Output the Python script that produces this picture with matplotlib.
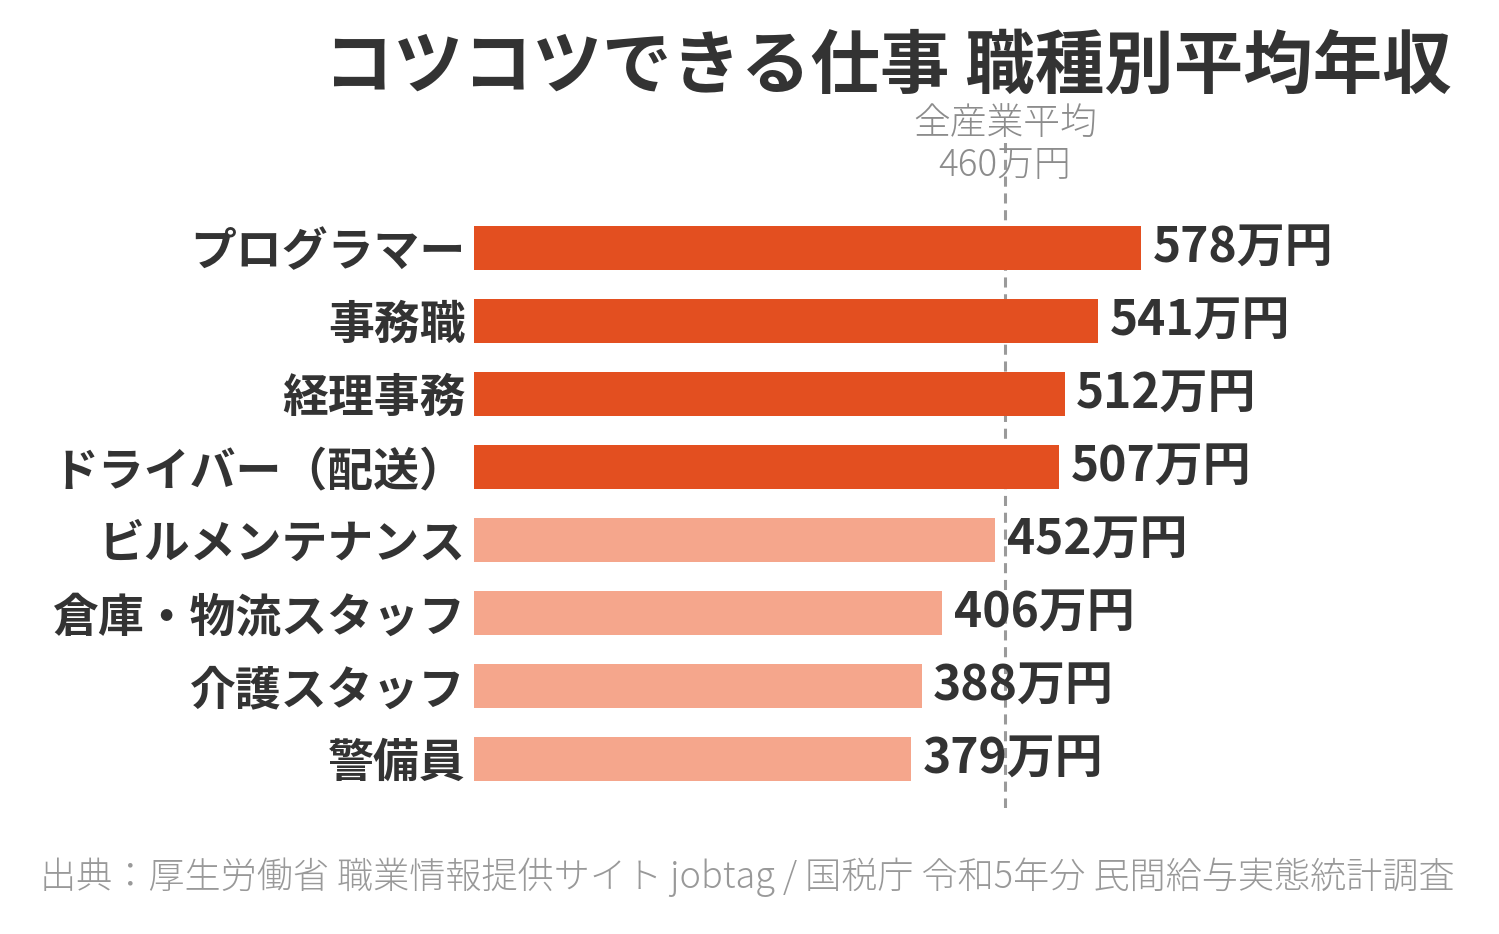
import matplotlib as mpl
import matplotlib.pyplot as plt

mpl.rcParams['font.family'] = ['Noto Sans CJK JP', 'DejaVu Sans']

jobs = ['プログラマー', '事務職', '経理事務', 'ドライバー（配送）',
        'ビルメンテナンス', '倉庫・物流スタッフ', '介護スタッフ', '警備員']
salary = [578, 541, 512, 507, 452, 406, 388, 379]
average = 460

title = 'コツコツできる仕事 職種別平均年収'
source = '出典：厚生労働省 職業情報提供サイト jobtag / 国税庁 令和5年分 民間給与実態統計調査'

dark = '#E34F20'
light = '#F5A68C'
text_color = '#333333'
gray = '#8C8C8C'

fig = plt.figure(figsize=(14.99, 9.34), dpi=100)
ax = fig.add_axes([474 / 1499, 1 - 808 / 934, 923 / 1499, (808 - 137) / 934])

ypos = list(range(len(jobs)))
colors = [dark if v > average else light for v in salary]
ax.barh(ypos, salary, height=0.6, color=colors, zorder=2)
ax.axvline(average, color='#9A9A9A', lw=2.2, dashes=(3.3, 2.2), zorder=1)

for y, v in zip(ypos, salary):
    ax.text(v + 10, y, f'{v}万円', va='center', ha='left', fontsize=34.5,
            fontweight='bold', color=text_color, zorder=3)

ax.text(average, -1.70, '全産業平均', ha='center', va='center', fontsize=26.5,
        color=gray, fontweight='light')
ax.text(average, -1.12, f'{average}万円', ha='center', va='center', fontsize=26.5,
        color=gray, fontweight='light')

ax.set_xlim(0, 800)
ax.set_ylim(7.67, -1.52)
ax.set_yticks(ypos)
ax.set_yticklabels(jobs, fontsize=33, fontweight='bold', color=text_color)
ax.tick_params(axis='y', length=0, pad=6)
ax.set_xticks([])
for s in ax.spines.values():
    s.set_visible(False)

fig.text(1452 / 1499, 1 - 68 / 934, title, ha='right', va='center', fontsize=50,
         fontweight='bold', color=text_color)
fig.text(40 / 1499, 1 - 877 / 934, source, ha='left', va='center', fontsize=26,
         color='#999999', fontweight='light')

fig.savefig('out.png', dpi=100, facecolor='white')
